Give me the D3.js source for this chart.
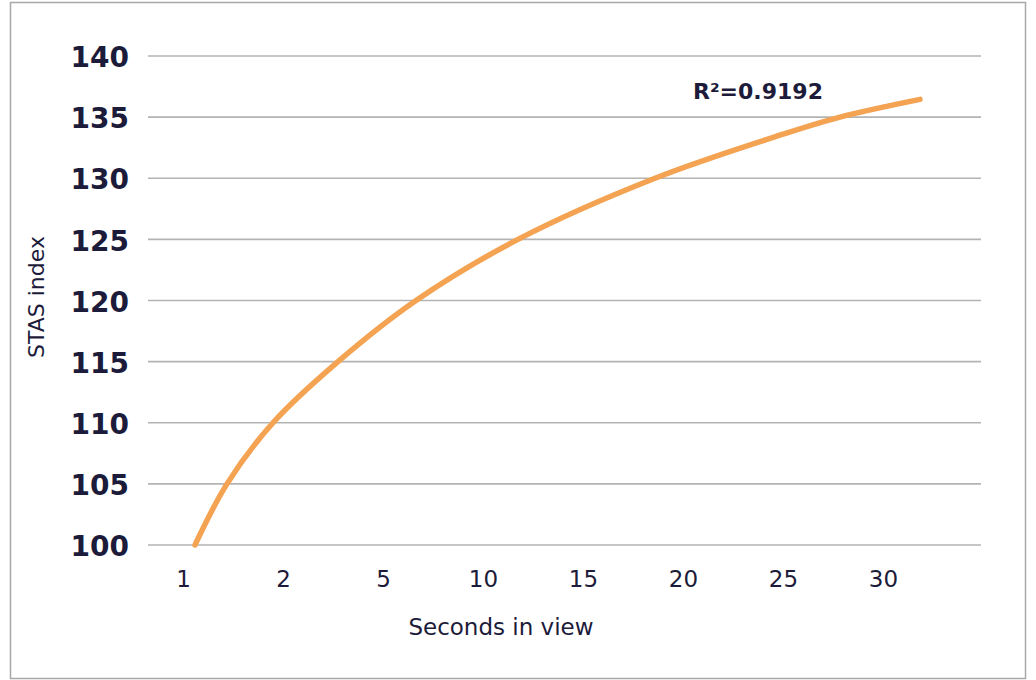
<!DOCTYPE html>
<html>
<head>
<meta charset="utf-8">
<script src="https://cdn.jsdelivr.net/npm/d3@7"></script>
<style>
  html, body { margin: 0; padding: 0; background: #fff; }
  svg { display: block; }
</style>
</head>
<body>
<svg id="chart" width="1036" height="680"></svg>
<script>
// Category labels on the x axis (equally spaced)
const categories = ["1", "2", "5", "10", "15", "20", "25", "30"];
// Y axis tick values
const yTicks = [100, 105, 110, 115, 120, 125, 130, 135, 140];
// Trend curve: position in category index units (1 = first category)
const curveX = [1.12, 1.44, 1.90, 2.55, 3.33, 4.35, 5.72, 7.00, 7.57, 8.37];
const curveY = [100.0, 105.0, 110.0, 115.0, 120.0, 125.0, 130.0, 133.6, 135.0, 136.45];
const r2Label = "R²=0.9192";

const svg = d3.select("#chart");
const textColor = "#1c1b3a";
const gridColor = "#b3b3b3";
const lineColor = "#f4a352";

// outer border
svg.append("rect").attr("x", 10.5).attr("y", 2.5).attr("width", 1015).attr("height", 676)
  .attr("fill", "#fff").attr("stroke", "#a8a8a8").attr("stroke-width", 1.5);

const plotLeft = 148, plotRight = 981;
const y = d3.scaleLinear().domain([100, 140]).range([545, 56]);
const xCat = d3.scalePoint().domain(categories).range([183, 883]);
const xIdx = d3.scaleLinear().domain([1, categories.length]).range([183, 883]);

// gridlines
svg.append("g").selectAll("line").data(yTicks).join("line")
  .attr("x1", plotLeft).attr("x2", plotRight)
  .attr("y1", d => y(d)).attr("y2", d => y(d))
  .attr("stroke", gridColor).attr("stroke-width", 1.6);

// y axis labels
const yAxis = d3.axisLeft(y).tickValues(yTicks).tickSize(0).tickPadding(0);
const gy = svg.append("g").attr("transform", "translate(129,0)").call(yAxis);
gy.select(".domain").remove();
gy.selectAll("text")
  .attr("fill", textColor)
  .attr("font-family", "'DejaVu Sans', sans-serif")
  .attr("font-weight", "bold")
  .attr("font-size", 28)
  .attr("dy", "0.38em");

// x axis labels
const xAxis = d3.axisBottom(xCat).tickSize(0).tickPadding(0);
const gx = svg.append("g").attr("transform", "translate(0,571)").call(xAxis);
gx.select(".domain").remove();
gx.selectAll("text")
  .attr("fill", textColor)
  .attr("font-family", "'DejaVu Sans', sans-serif")
  .attr("font-size", 23)
  .attr("dy", "0.71em");

// axis titles
svg.append("text").attr("x", 501).attr("y", 635)
  .attr("text-anchor", "middle").attr("fill", textColor)
  .attr("font-family", "'DejaVu Sans', sans-serif").attr("font-size", 23)
  .text("Seconds in view");

svg.append("text")
  .attr("transform", "translate(44,297) rotate(-90)")
  .attr("text-anchor", "middle").attr("fill", textColor)
  .attr("font-family", "'DejaVu Sans', sans-serif").attr("font-size", 22)
  .text("STAS index");

// trend curve
const pts = curveX.map((v, i) => [v, curveY[i]]);
const line = d3.line().x(d => xIdx(d[0])).y(d => y(d[1])).curve(d3.curveCatmullRom.alpha(0.5));
svg.append("path").datum(pts)
  .attr("d", line)
  .attr("fill", "none").attr("stroke", lineColor)
  .attr("stroke-width", 5.5).attr("stroke-linecap", "round");

// R² label
svg.append("text").attr("x", 758).attr("y", 99)
  .attr("text-anchor", "middle").attr("fill", textColor)
  .attr("font-family", "'DejaVu Sans', sans-serif").attr("font-weight", "bold")
  .attr("font-size", 22)
  .text(r2Label);
</script>
</body>
</html>
